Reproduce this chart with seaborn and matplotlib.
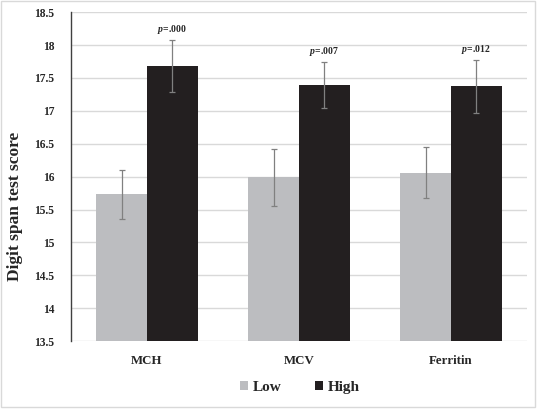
import matplotlib
matplotlib.use("Agg")
import matplotlib.pyplot as plt
from matplotlib.patches import Rectangle
import pandas as pd
import seaborn as sns

categories = ["MCH", "MCV", "Ferritin"]
groups = ["Low", "High"]
low_mean = [15.73, 15.99, 16.06]
high_mean = [17.68, 17.39, 17.37]
low_err = [0.37, 0.43, 0.39]
high_err = [0.40, 0.35, 0.40]
p_labels = ["$p$=.000", "$p$=.007", "$p$=.012"]
y_ticks = [13.5, 14, 14.5, 15, 15.5, 16, 16.5, 17, 17.5, 18, 18.5]

df = pd.DataFrame({
    "marker": categories * 2,
    "group": ["Low"] * 3 + ["High"] * 3,
    "score": low_mean + high_mean,
    "err": low_err + high_err,
})

sns.set_style("white")
plt.rcParams["font.family"] = ["Liberation Serif", "DejaVu Serif"]
plt.rcParams["font.weight"] = "bold"
plt.rcParams["mathtext.fontset"] = "custom"
plt.rcParams["mathtext.it"] = "Liberation Serif:italic:bold"
plt.rcParams["mathtext.rm"] = "Liberation Serif:bold"

fig = plt.figure(figsize=(5.4, 4.19), dpi=100)
ax = fig.add_axes([0.1315, 0.186, 0.8445, 0.785])

palette = {"Low": "#bcbdc0", "High": "#231f20"}
sns.barplot(data=df, x="marker", y="score", hue="group", hue_order=groups,
            order=categories, palette=palette, width=0.665, errorbar=None,
            saturation=1, linewidth=0, ax=ax, zorder=2)

# error bars + p labels on top of the bars
errs = {"Low": low_err, "High": high_err}
means = {"Low": low_mean, "High": high_mean}
for cont, g in zip(ax.containers, groups):
    for i, bar in enumerate(cont):
        xc = bar.get_x() + bar.get_width() / 2
        ax.errorbar(xc, means[g][i], yerr=errs[g][i], color="#808080",
                    lw=0.9, capsize=2.5, capthick=0.9, zorder=3)
        if g == "High":
            ax.annotate(p_labels[i], (xc, means[g][i] + errs[g][i]),
                        xytext=(0, 3), textcoords="offset points",
                        ha="center", va="bottom", fontsize=7, fontweight="bold")

ax.set_ylim(13.5, 18.5)
ax.set_xlim(-0.5, 2.5)
ax.set_yticks(y_ticks)
ax.set_yticklabels([f"{t:g}" for t in y_ticks], fontsize=8.3, fontweight="bold")
ax.tick_params(axis="x", labelsize=9.3, pad=10, length=0)
ax.tick_params(axis="y", length=0, pad=12)
for lab in ax.get_xticklabels():
    lab.set_fontweight("bold")
ax.set_xlabel("")
ax.set_ylabel("Digit span test score", fontsize=12.5, fontweight="bold")
ax.yaxis.set_label_coords(-0.105, 0.41)

ax.yaxis.grid(True, color="#d9d9d9", lw=1, zorder=0)
ax.set_axisbelow(True)
for s in ["top", "right", "bottom"]:
    ax.spines[s].set_visible(False)
ax.spines["left"].set_color("#404040")
ax.spines["left"].set_linewidth(1)

handles, labels = ax.get_legend_handles_labels()
ax.legend_.remove()
fig.legend(handles, labels, loc="center", bbox_to_anchor=(0.555, 0.076), ncol=2,
           frameon=False, prop={"size": 11, "weight": "bold"},
           handlelength=0.55, handleheight=0.55, handletextpad=0.3, columnspacing=2.2)

fig.add_artist(Rectangle((0.002, 0.0286), 0.989, 0.969, transform=fig.transFigure,
                         fill=False, edgecolor="#d9d9d9", lw=1))

fig.savefig("out.png", dpi=100)
